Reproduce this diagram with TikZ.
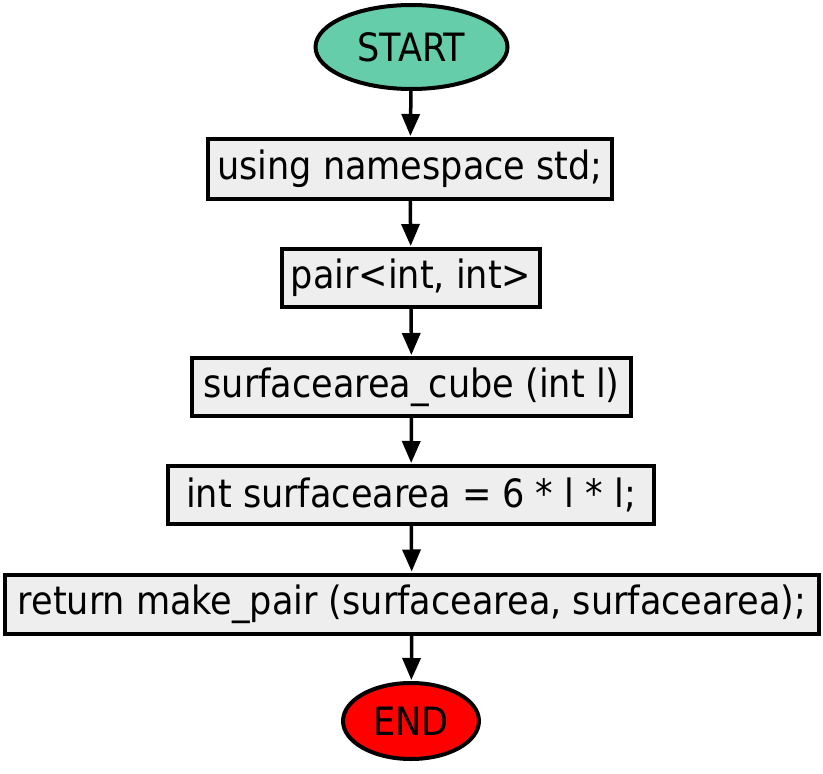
\documentclass[tikz,border=0pt]{standalone}
\usepackage{fontspec}
\setmainfont{DejaVu Sans Condensed}
\usetikzlibrary{shapes.geometric,arrows.meta}
\definecolor{startgreen}{HTML}{66CDAA}
\definecolor{endred}{HTML}{FF0000}
\definecolor{boxgray}{HTML}{EEEEEE}
\tikzset{
  x=1pt, y=-1pt,
  every node/.style={font=\fontsize{39}{45}\selectfont, inner sep=0pt},
  terminal/.style={ellipse, draw=black, line width=4pt},
  stepbox/.style={rectangle, draw=black, line width=4pt, fill=boxgray},
  flow/.style={draw=black, line width=3.5pt, -{Triangle[length=22pt,width=18pt]}, shorten >=1pt}
}
\begin{document}
\begin{tikzpicture}
\useasboundingbox (0,0) rectangle (823,774);
\node[terminal, fill=startgreen, minimum width=192pt, minimum height=84pt] (start) at (411.5,47) {START};
\node[stepbox, minimum width=404pt, minimum height=60pt] (ns) at (410,169) {using namespace std;};
\node[stepbox, minimum width=258pt, minimum height=58pt] (pair) at (411,278) {pair<int, int>};
\node[stepbox, minimum width=439pt, minimum height=58pt] (func) at (411.5,387) {surfacearea\_cube (int l)};
\node[stepbox, minimum width=486pt, minimum height=58pt] (calc) at (411,495) {int surfacearea = 6 * l * l;};
\node[stepbox, minimum width=814pt, minimum height=59pt] (ret) at (412,604) {return make\_pair (surfacearea, surfacearea);};
\node[terminal, fill=endred, minimum width=136pt, minimum height=76pt] (end) at (411,721) {END};
\draw[flow] (start) -- (ns);
\draw[flow] (ns) -- (pair);
\draw[flow] (pair) -- (func);
\draw[flow] (func) -- (calc);
\draw[flow] (calc) -- (ret);
\draw[flow] (ret) -- (end);
\end{tikzpicture}
\end{document}
